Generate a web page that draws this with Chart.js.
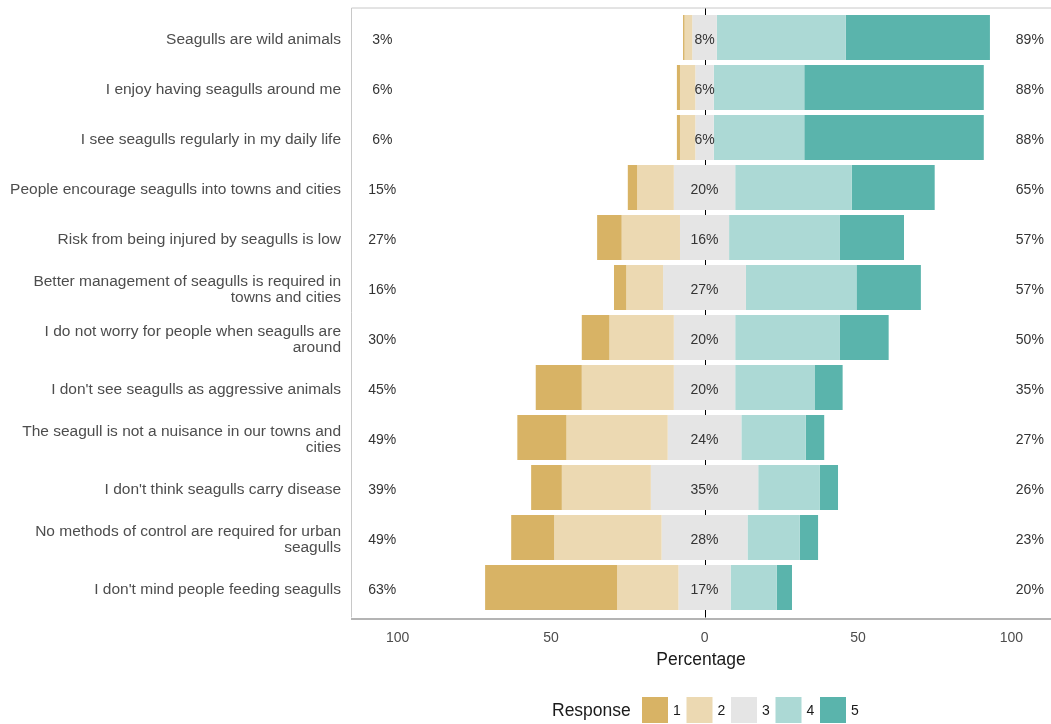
<!DOCTYPE html>
<html><head><meta charset="utf-8">
<script src="https://cdn.jsdelivr.net/npm/chart.js@4.4.0/dist/chart.umd.min.js"></script>
<style>html,body{margin:0;padding:0;background:#fff;overflow:hidden}#wrap{position:relative;width:1051px;height:724px}</style>
</head><body><div id="wrap"><canvas id="c" width="1051" height="724"></canvas></div>
<script>
// ---- data ----
const categories = [
  "Seagulls are wild animals",
  "I enjoy having seagulls around me",
  "I see seagulls regularly in my daily life",
  "People encourage seagulls into towns and cities",
  "Risk from being injured by seagulls is low",
  ["Better management of seagulls is required in", "towns and cities"],
  ["I do not worry for people when seagulls are", "around"],
  "I don't see seagulls as aggressive animals",
  ["The seagull is not a nuisance in our towns and", "cities"],
  "I don't think seagulls carry disease",
  ["No methods of control are required for urban", "seagulls"],
  "I don't mind people feeding seagulls"
];
const resp1 = [0.5, 1, 1, 3, 8, 4, 9, 15, 16, 10, 14, 43];
const resp2 = [2.5, 5, 5, 12, 19, 12, 21, 30, 33, 29, 35, 20];
const resp3 = [8, 6, 6, 20, 16, 27, 20, 20, 24, 35, 28, 17];
const resp4 = [42, 29.5, 29.5, 38, 36, 36, 34, 26, 21, 20, 17, 15];
const resp5 = [47, 58.5, 58.5, 27, 21, 21, 16, 9, 6, 6, 6, 5];
const responseLabels = ["1", "2", "3", "4", "5"];
const xTicks = [-100, -50, 0, 50, 100];
const xTitle = "Percentage";
const legendTitle = "Response";

// ---- styles ----
const colors = ["#d8b365", "#ecd9b2", "#e5e5e5", "#acd9d5", "#5ab4ac"];
const FONT = "'Liberation Sans', Arial, sans-serif";

// ---- build floating ranges ----
const ranges = [[], [], [], [], []];
categories.forEach((c, i) => {
  const h = resp3[i] / 2;
  ranges[2].push([-h, h]);
  ranges[1].push([-h - resp2[i], -h]);
  ranges[0].push([-h - resp2[i] - resp1[i], -h - resp2[i]]);
  ranges[3].push([h, h + resp4[i]]);
  ranges[4].push([h + resp4[i], h + resp4[i] + resp5[i]]);
});

const frame = {
  id: 'frame',
  beforeDatasetsDraw(chart) {
    const {ctx, chartArea: a, scales: {x}} = chart;
    const top = a.top - 5, bottom = a.bottom + 5;
    ctx.save();
    ctx.strokeStyle = '#c8c8c8';
    ctx.lineWidth = 1;
    ctx.beginPath();
    ctx.moveTo(a.left + 0.5, bottom); ctx.lineTo(a.left + 0.5, top + 0.5); ctx.lineTo(a.right, top + 0.5);
    ctx.stroke();
    ctx.strokeStyle = '#b4b4b4';
    ctx.lineWidth = 2;
    ctx.beginPath();
    ctx.moveTo(a.left, bottom + 1.5); ctx.lineTo(a.right, bottom + 1.5);
    ctx.stroke();
    const zx = Math.round(x.getPixelForValue(0)) + 0.5;
    ctx.strokeStyle = '#000';
    ctx.lineWidth = 1;
    ctx.beginPath();
    ctx.moveTo(zx, top + 1); ctx.lineTo(zx, bottom);
    ctx.stroke();
    ctx.restore();
  },
  afterDatasetsDraw(chart) {
    const {ctx, scales: {x, y}} = chart;
    ctx.save();
    ctx.font = "14px " + FONT;
    ctx.fillStyle = '#333';
    ctx.textAlign = 'center';
    ctx.textBaseline = 'middle';
    categories.forEach((c, i) => {
      const py = y.getPixelForValue(i) + 3;
      ctx.fillText(Math.round(resp1[i] + resp2[i]) + '%', x.getPixelForValue(-105), py);
      ctx.fillText(Math.round(resp3[i]) + '%', x.getPixelForValue(0), py);
      ctx.fillText(Math.round(resp4[i] + resp5[i]) + '%', x.getPixelForValue(106), py);
    });
    ctx.restore();
  },
  afterDraw(chart) {
    const {ctx} = chart;
    ctx.save();
    ctx.textBaseline = 'middle';
    ctx.fillStyle = '#1a1a1a';
    ctx.font = "17.5px " + FONT;
    ctx.textAlign = 'left';
    ctx.fillText(legendTitle, 552, 711);
    ctx.font = "14px " + FONT;
    chart.data.datasets.forEach((ds, k) => {
      const sx = 642 + k * 44.5;
      ctx.fillStyle = ds.backgroundColor;
      ctx.fillRect(sx, 697, 26, 26);
      ctx.fillStyle = '#1a1a1a';
      ctx.fillText(ds.label, sx + 31, 711);
    });
    ctx.restore();
  }
};

new Chart(document.getElementById('c'), {
  type: 'bar',
  data: {
    labels: categories,
    datasets: responseLabels.map((lab, k) => ({
      label: lab,
      data: ranges[k],
      backgroundColor: colors[k],
      borderWidth: 0,
      grouped: false,
      barPercentage: 0.9,
      categoryPercentage: 1
    }))
  },
  options: {
    indexAxis: 'y',
    responsive: false,
    animation: false,
    devicePixelRatio: 1,
    layout: {padding: {top: 12.5, bottom: 51.5, left: 0, right: 0}},
    plugins: {legend: {display: false}, tooltip: {enabled: false}},
    scales: {
      y: {
        type: 'category',
        offset: true,
        grid: {display: false, drawTicks: false},
        border: {display: false},
        ticks: {font: {family: FONT, size: 15.5, lineHeight: 1.05}, color: '#4d4d4d', padding: 10, autoSkip: false, labelOffset: 2.5},
        afterFit(s) { s.width = 351; s.paddingTop = 0; s.paddingBottom = 0; }
      },
      x: {
        type: 'linear',
        min: -115.2,
        max: 112.9,
        grid: {display: false, drawTicks: false},
        border: {display: false},
        afterBuildTicks(s) { s.ticks = xTicks.map(v => ({value: v})); },
        ticks: {font: {family: FONT, size: 14}, color: '#4d4d4d', padding: 17, callback: v => Math.abs(v)},
        title: {display: true, text: xTitle, font: {family: FONT, size: 17.5}, color: '#1a1a1a', padding: {top: 0, bottom: 2}},
        afterFit(s) { s.height = 60; s.paddingLeft = 0; s.paddingRight = 0; }
      }
    }
  },
  plugins: [frame]
});
</script></body></html>
